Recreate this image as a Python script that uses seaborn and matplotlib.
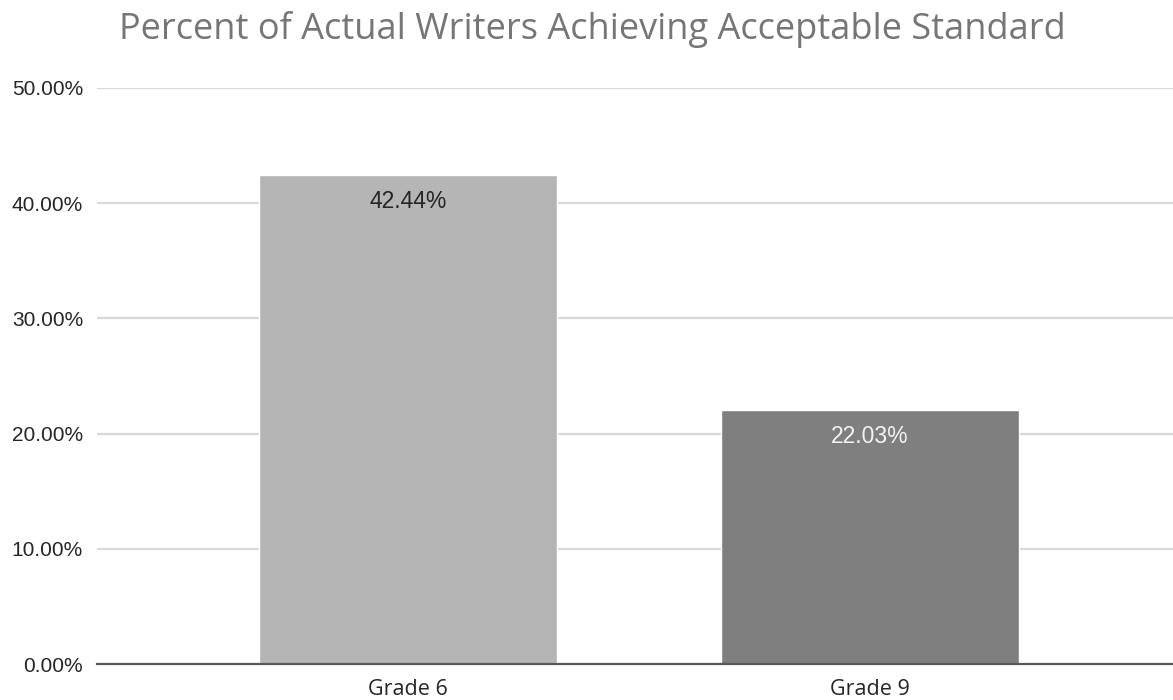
import matplotlib
matplotlib.use("Agg")
import matplotlib.pyplot as plt
import seaborn as sns
import pandas as pd
from matplotlib.ticker import PercentFormatter, MultipleLocator

categories = ["Grade 6", "Grade 9"]
percent_values = [42.44, 22.03]
bar_colors = ["#b5b5b5", "#7f7f7f"]
label_colors = ["#262626", "#f2f2f2"]
title_text = "Percent of Actual Writers Achieving Acceptable Standard"

sns.set_theme(style="white")
plt.rcParams["font.family"] = ["Open Sans", "DejaVu Sans"]

df = pd.DataFrame({"grade": categories, "pct": [v / 100 for v in percent_values]})

fig = plt.figure(figsize=(11.73, 7.0), dpi=100)
ax = fig.add_axes([97 / 1173, 1 - 664 / 700, 1 - 97 / 1173, (664 - 88) / 700])

sns.barplot(data=df, x="grade", y="pct", hue="grade", palette=bar_colors,
            legend=False, width=0.645, ax=ax, zorder=2, saturation=1)

ax.set_xlim(-0.673, 1.656)
ax.set_ylim(0, 0.5)
ax.yaxis.set_major_locator(MultipleLocator(0.1))
ax.yaxis.set_major_formatter(PercentFormatter(xmax=1, decimals=2))
ax.grid(axis="y", color="#d9d9d9", linewidth=1.6, zorder=0)
ax.set_axisbelow(True)

for side in ["top", "right", "left"]:
    ax.spines[side].set_visible(False)
ax.spines["bottom"].set_color("#595959")
ax.spines["bottom"].set_linewidth(1.6)
ax.spines["bottom"].set_zorder(3)

ax.set_xlabel("")
ax.set_ylabel("")
ax.tick_params(axis="y", length=0, pad=10, labelsize=15, labelcolor="#262626")
ax.tick_params(axis="x", length=0, pad=11, labelsize=15.5, labelcolor="#262626")
for lbl in ax.get_yticklabels():
    lbl.set_family(["Liberation Sans", "DejaVu Sans"])

for i, (val, col) in enumerate(zip(percent_values, label_colors)):
    ax.annotate(f"{val:.2f}%", xy=(i, val / 100), xytext=(0, -19),
                textcoords="offset points", ha="center", va="center",
                fontsize=16.5, color=col, family=["Liberation Sans", "DejaVu Sans"])

fig.text(0.505, 1 - 39 / 700, title_text, ha="center", va="baseline", fontsize=26,
         color="#767676")

fig.savefig("out.png", dpi=100)
